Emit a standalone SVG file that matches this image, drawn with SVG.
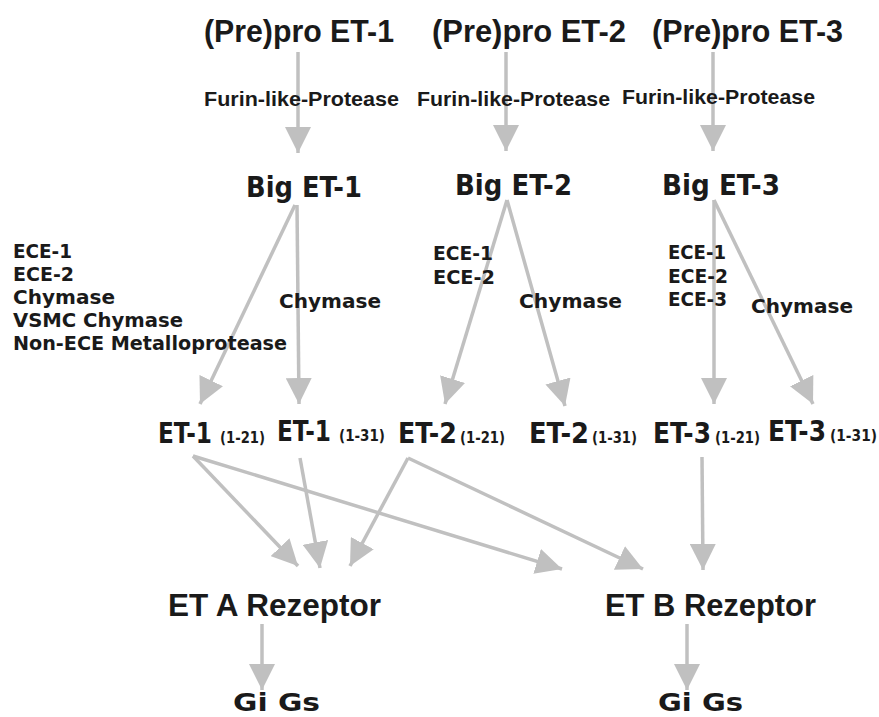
<svg xmlns="http://www.w3.org/2000/svg" width="879" height="717" viewBox="0 0 879 717">
<style>
.cond{font-family:"Liberation Sans Narrow","Liberation Sans",Arial,sans-serif;font-weight:bold;fill:#1a1a1a}
.geo{font-family:"DejaVu Sans","Liberation Sans",sans-serif;font-weight:bold;fill:#1a1a1a}
.title{font-size:31px}
.furin{font-size:21px}
.big{font-size:28px}
.lab{font-size:19px}
.et{font-size:29px}
.sub{font-size:15px}
.rez{font-size:32px}
.gi{font-size:25px}
.c{stroke:#c0c0c0;stroke-width:3.5;fill:none;marker-end:url(#ah)}
</style>
<defs>
<marker id="ah" markerUnits="userSpaceOnUse" markerWidth="28" markerHeight="26" refX="26" refY="13" orient="auto" viewBox="0 0 28 26">
<path d="M0,0 L26,13 L0,26 z" fill="#c0c0c0"/>
</marker>
</defs>
<rect width="879" height="717" fill="#ffffff"/>
<g id="connectors">
<line class="c" x1="298" y1="52" x2="298" y2="153"/>
<line class="c" x1="506" y1="52" x2="506" y2="151"/>
<line class="c" x1="713" y1="52" x2="713" y2="151"/>
<line class="c" x1="295" y1="205" x2="200" y2="404"/>
<line class="c" x1="297" y1="205" x2="299" y2="404"/>
<line class="c" x1="507" y1="200" x2="445" y2="404"/>
<line class="c" x1="507" y1="200" x2="565" y2="406"/>
<line class="c" x1="714" y1="200" x2="714" y2="404"/>
<line class="c" x1="714" y1="200" x2="813" y2="404"/>
<line class="c" x1="193" y1="456" x2="298" y2="566"/>
<line class="c" x1="193" y1="456" x2="562" y2="569"/>
<line class="c" x1="300" y1="458" x2="320" y2="568"/>
<line class="c" x1="408" y1="458" x2="350" y2="566"/>
<line class="c" x1="408" y1="458" x2="643" y2="569"/>
<line class="c" x1="702" y1="457" x2="703" y2="570"/>
<line class="c" x1="262" y1="624" x2="262" y2="690"/>
<line class="c" x1="687" y1="624" x2="687" y2="690"/>
</g>
<g id="edge-labels">
<text class="cond furin" x="204" y="106" textLength="195" lengthAdjust="spacingAndGlyphs">Furin-like-Protease</text>
<text class="cond furin" x="417" y="106" textLength="193" lengthAdjust="spacingAndGlyphs">Furin-like-Protease</text>
<text class="cond furin" x="622" y="104" textLength="193" lengthAdjust="spacingAndGlyphs">Furin-like-Protease</text>
<text class="geo lab" x="13" y="258" textLength="59" lengthAdjust="spacingAndGlyphs">ECE-1</text>
<text class="geo lab" x="13" y="281" textLength="61" lengthAdjust="spacingAndGlyphs">ECE-2</text>
<text class="geo lab" x="13" y="304" textLength="102" lengthAdjust="spacingAndGlyphs">Chymase</text>
<text class="geo lab" x="13" y="327" textLength="170" lengthAdjust="spacingAndGlyphs">VSMC Chymase</text>
<text class="geo lab" x="13" y="350" textLength="274" lengthAdjust="spacingAndGlyphs">Non-ECE Metalloprotease</text>
<text class="geo lab" x="279" y="308" textLength="102" lengthAdjust="spacingAndGlyphs">Chymase</text>
<text class="geo lab" x="433" y="260" textLength="60" lengthAdjust="spacingAndGlyphs">ECE-1</text>
<text class="geo lab" x="433" y="284" textLength="62" lengthAdjust="spacingAndGlyphs">ECE-2</text>
<text class="geo lab" x="519" y="308" textLength="103" lengthAdjust="spacingAndGlyphs">Chymase</text>
<text class="geo lab" x="668" y="259" textLength="58" lengthAdjust="spacingAndGlyphs">ECE-1</text>
<text class="geo lab" x="668" y="283" textLength="60" lengthAdjust="spacingAndGlyphs">ECE-2</text>
<text class="geo lab" x="668" y="306" textLength="59" lengthAdjust="spacingAndGlyphs">ECE-3</text>
<text class="geo lab" x="751" y="313" textLength="102" lengthAdjust="spacingAndGlyphs">Chymase</text>
</g>
<g id="prepro-et1"><text class="cond title" x="204" y="42" textLength="190" lengthAdjust="spacingAndGlyphs">(Pre)pro ET-1</text></g>
<g id="prepro-et2"><text class="cond title" x="432" y="42" textLength="194" lengthAdjust="spacingAndGlyphs">(Pre)pro ET-2</text></g>
<g id="prepro-et3"><text class="cond title" x="652" y="42" textLength="191" lengthAdjust="spacingAndGlyphs">(Pre)pro ET-3</text></g>
<g id="big-et1"><text class="geo big" x="246" y="197" textLength="116" lengthAdjust="spacingAndGlyphs">Big ET-1</text></g>
<g id="big-et2"><text class="geo big" x="455" y="195" textLength="117" lengthAdjust="spacingAndGlyphs">Big ET-2</text></g>
<g id="big-et3"><text class="geo big" x="662" y="195" textLength="118" lengthAdjust="spacingAndGlyphs">Big ET-3</text></g>
<g id="et1-121"><text class="geo et" x="158" y="443" textLength="54" lengthAdjust="spacingAndGlyphs">ET-1</text><text class="geo sub" x="220" y="443" textLength="45" lengthAdjust="spacingAndGlyphs">(1-21)</text></g>
<g id="et1-131"><text class="geo et" x="277" y="441" textLength="54" lengthAdjust="spacingAndGlyphs">ET-1</text><text class="geo sub" x="339" y="441" textLength="46" lengthAdjust="spacingAndGlyphs">(1-31)</text></g>
<g id="et2-121"><text class="geo et" x="398" y="443" textLength="59" lengthAdjust="spacingAndGlyphs">ET-2</text><text class="geo sub" x="460" y="443" textLength="45" lengthAdjust="spacingAndGlyphs">(1-21)</text></g>
<g id="et2-131"><text class="geo et" x="529" y="443" textLength="60" lengthAdjust="spacingAndGlyphs">ET-2</text><text class="geo sub" x="592" y="443" textLength="45" lengthAdjust="spacingAndGlyphs">(1-31)</text></g>
<g id="et3-121"><text class="geo et" x="653" y="443" textLength="58" lengthAdjust="spacingAndGlyphs">ET-3</text><text class="geo sub" x="715" y="443" textLength="45" lengthAdjust="spacingAndGlyphs">(1-21)</text></g>
<g id="et3-131"><text class="geo et" x="768" y="441" textLength="58" lengthAdjust="spacingAndGlyphs">ET-3</text><text class="geo sub" x="830" y="441" textLength="47" lengthAdjust="spacingAndGlyphs">(1-31)</text></g>
<g id="eta-rezeptor"><text class="cond rez" x="168" y="616" textLength="213" lengthAdjust="spacingAndGlyphs">ET A Rezeptor</text></g>
<g id="etb-rezeptor"><text class="cond rez" x="605" y="616" textLength="211" lengthAdjust="spacingAndGlyphs">ET B Rezeptor</text></g>
<g id="gi-gs-a"><text class="geo gi" x="233" y="711" textLength="87" lengthAdjust="spacingAndGlyphs">Gi Gs</text></g>
<g id="gi-gs-b"><text class="geo gi" x="658" y="711" textLength="85" lengthAdjust="spacingAndGlyphs">Gi Gs</text></g>
</svg>
